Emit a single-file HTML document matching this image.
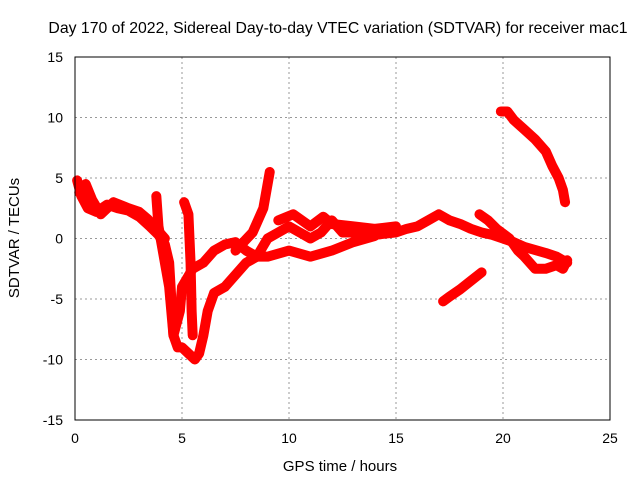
<!DOCTYPE html>
<html><head><meta charset="utf-8"><style>
body{margin:0;background:#fff}
svg{display:block;font-family:"Liberation Sans",sans-serif}
</style></head><body>
<svg id="chart" width="640" height="480" viewBox="0 0 640 480">
<text x="338" y="33" font-size="15.8" text-anchor="middle">Day 170 of 2022, Sidereal Day-to-day VTEC variation (SDTVAR) for receiver mac1</text>
<g id="grid"></g>
<g id="ticks" font-size="14"></g>
<g id="series"></g>
<rect x="75" y="57" width="535" height="363" fill="none" stroke="#000" stroke-width="1"/>
<text x="340" y="471" font-size="15" text-anchor="middle">GPS time / hours</text>
<text x="19" y="238" font-size="15" text-anchor="middle" transform="rotate(-90 19 238)">SDTVAR / TECUs</text>
</svg>
<script>
const xTicks=[0,5,10,15,20,25];
const yTicks=[-15,-10,-5,0,5,10,15];
const trackMain=[[0.1,4.8],[0.3,3.5],[0.6,2.5],[1.0,2.2],[1.5,2.8],[2,2.5],[2.5,2.3],[3,1.8],[3.5,1.0],[3.9,0.3],[4.2,-0.5],[4.4,-2],[4.5,-5],[4.6,-8],[4.8,-9],[5.0,-9],[5.3,-9.5],[5.6,-10],[5.8,-9.5],[6.0,-8],[6.2,-6],[6.5,-4.5],[7,-4],[7.5,-3],[8,-2],[8.5,-1.5],[9.0,0],[9.5,0.5],[10,1],[10.5,0.5],[11,0],[11.5,0.5],[12,1.5],[12.5,0.5],[13,0.5],[14,0.3],[15,0.5],[15.5,0.8],[16,1.0],[16.5,1.5],[17,2.0],[17.5,1.5],[18,1.2],[18.5,0.8],[19,0.5],[19.5,0.3],[20,0],[20.5,-0.3],[21,-0.7],[22,-1.2],[22.5,-1.5],[23,-2]];
const trackEarly=[[0.2,3.8],[0.5,4.5],[0.8,3.2],[1.2,2.0],[1.8,3.0],[2.5,2.5],[3,2.2],[3.4,1.6],[3.8,0.8],[4.2,0]];
const trackSecond=[[3.8,3.5],[3.9,1],[4.1,-1],[4.4,-4],[4.6,-8],[4.9,-6],[5.0,-4],[5.5,-2.5],[6,-2],[6.5,-1],[7,-0.5],[7.5,-0.3],[8,-1],[8.5,-1.5],[9,-1.5],[10,-1],[11,-1.5],[12,-1],[13,-0.3],[14,0.2]];
const trackMid=[[9.5,1.5],[10.2,2.0],[11,1.0],[11.6,1.8],[12,1.2],[13,1.0],[14,0.8],[15,1.0]];
const trackSpikeA=[[5.1,3],[5.3,2],[5.4,-2],[5.45,-6],[5.5,-8]];
const trackSpikeB=[[7.5,-1],[8.3,0.5],[8.8,2.5],[9.1,5.5]];
const trackLate=[[18.9,2],[19.3,1.5],[19.7,0.8],[20.3,0],[20.7,-1],[21,-1.5],[21.5,-2.5],[22,-2.5],[22.5,-2.2],[22.8,-2.5],[23,-1.8]];
const trackLow=[[17.2,-5.2],[17.5,-4.8],[18,-4.2],[18.5,-3.5],[19,-2.8]];
const trackHigh=[[19.9,10.5],[20.2,10.5],[20.5,9.8],[21,9],[21.5,8.2],[22,7.2],[22.3,6],[22.6,5],[22.8,4],[22.9,3]];
const tracks=[trackMain,trackEarly,trackSecond,trackMid,trackSpikeA,trackSpikeB,trackLate,trackLow,trackHigh];
const NS='http://www.w3.org/2000/svg';
const X=v=>75+v*535/25, Y=v=>238.5-v*363/30;
const grid=document.getElementById('grid'),ticks=document.getElementById('ticks'),series=document.getElementById('series');
function mk(t,a,p){const e=document.createElementNS(NS,t);for(const k in a)e.setAttribute(k,a[k]);p.appendChild(e);return e;}
xTicks.forEach(v=>{
 if(v>0&&v<25){const l=mk('line',{x1:X(v),x2:X(v),y1:57,y2:420,stroke:'#999','stroke-dasharray':'2,3'},grid);
 
 }
 const t=mk('text',{x:X(v),y:443,'text-anchor':'middle'},ticks);t.textContent=v;
 
 
});
yTicks.forEach(v=>{
 if(v>-15&&v<15){const l=mk('line',{x1:75,x2:610,y1:Y(v),y2:Y(v),stroke:'#999','stroke-dasharray':'2,3'},grid);
 
 }
 const t=mk('text',{x:63,y:Y(v)+5,'text-anchor':'end'},ticks);t.textContent=v;
 
 
});
tracks.forEach(tr=>{
 const pl=mk('polyline',{points:tr.map(p=>X(p[0])+','+Y(p[1])).join(' '),fill:'none',stroke:'#f00','stroke-width':10,'stroke-linejoin':'round','stroke-linecap':'round'},series);
 
 
 tr.forEach(p=>{const x=X(p[0]),y=Y(p[1]);
  const m=mk('path',{d:`M${x-4},${y}h8M${x},${y-4}v8`,stroke:'#f00','stroke-width':1.5},series);
  
  
 });
});
</script>
</body></html>
